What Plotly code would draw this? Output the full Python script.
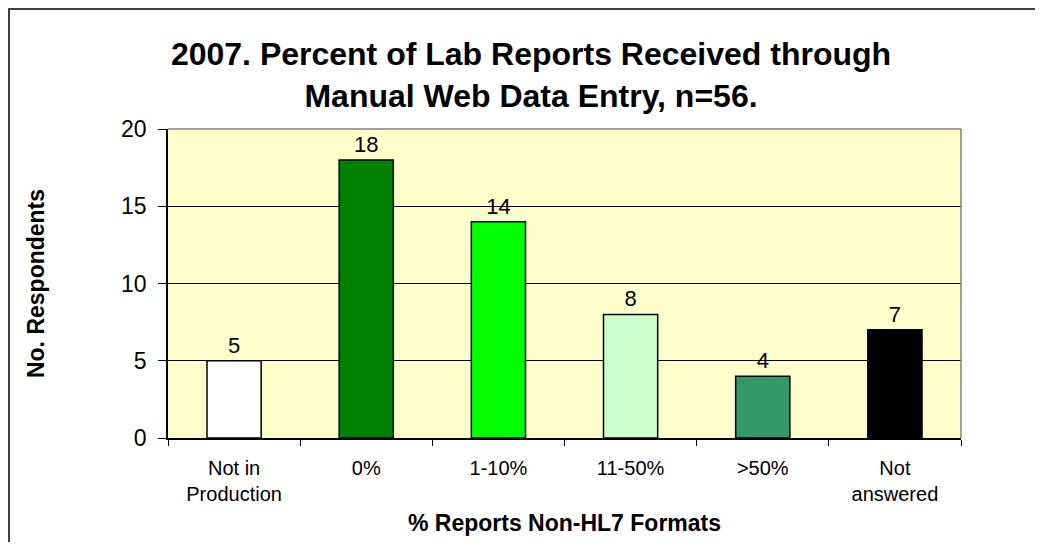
import plotly.graph_objects as go

categories = ["Not in<br>Production", "0%", "1-10%", "11-50%", ">50%", "Not<br>answered"]
values = [5, 18, 14, 8, 4, 7]
bar_colors = ["#FFFFFF", "#008000", "#00FF00", "#CCFFCC", "#339966", "#000000"]
y_ticks = [0, 5, 10, 15, 20]

W, H = 1027, 534
L, R, T, B = 160, 74, 121, 104
FONT = "Liberation Sans, Arial, sans-serif"

fig = go.Figure(go.Bar(
    x=categories, y=values,
    marker=dict(color=bar_colors, line=dict(color="#000000", width=1.5)),
    text=[str(v) for v in values], textposition="outside",
    textfont=dict(family=FONT, size=22, color="#000000"),
    cliponaxis=False,
))

fig.update_layout(
    width=W, height=H,
    margin=dict(l=L, r=R, t=T, b=B, autoexpand=False),
    paper_bgcolor="#FFFFFF", plot_bgcolor="#FFFFCC",
    bargap=0.59, showlegend=False,
    title=dict(
        text="2007. Percent of Lab Reports Received through<br>Manual Web Data Entry, n=56.",
        font=dict(family=FONT, size=32, color="#000000", weight="bold"),
        x=523 / W, xanchor="center", xref="container",
        y=1 - 57 / H, yanchor="middle", yref="container",
    ),
    font=dict(family=FONT, color="#000000"),
)

fig.update_xaxes(
    type="category", tickson="boundaries", ticks="outside", ticklen=6,
    tickcolor="#000000", tickwidth=1,
    showline=True, linecolor="#000000", linewidth=1.5,
    showgrid=False, tickfont=dict(family=FONT, size=20, color="#000000"),
    ticklabelstandoff=11,
    title=dict(text="% Reports Non-HL7 Formats",
               font=dict(family=FONT, size=23, color="#000000", weight="bold"),
               standoff=11),
    automargin=False,
)

fig.update_yaxes(
    range=[0, 20], tickvals=y_ticks, ticks="outside", ticklen=8,
    tickcolor="#000000", tickwidth=1,
    showline=True, linecolor="#000000", linewidth=1.5,
    showgrid=True, gridcolor="#000000", gridwidth=1, zeroline=False,
    tickfont=dict(family=FONT, size=23, color="#000000"),
    ticklabelstandoff=7,
    title=dict(text="No. Respondents",
               font=dict(family=FONT, size=23, color="#000000", weight="bold"),
               standoff=70),
    automargin=False,
)

# plot area border (grey) on top and right
fig.add_shape(type="line", xref="paper", yref="paper", x0=0, x1=1, y0=1, y1=1,
              line=dict(color="#808080", width=1.5), layer="above")
fig.add_shape(type="line", xref="paper", yref="paper", x0=1, x1=1, y0=0, y1=1,
              line=dict(color="#808080", width=1.5), layer="above")

# outer chart border (left and top edges visible)
PW, PH = W - L - R, H - T - B
fig.add_shape(type="line", xref="paper", yref="paper",
              x0=(1 - L) / PW, x1=(1 - L) / PW,
              y0=-B / PH, y1=1 + (T - 1) / PH,
              line=dict(color="#404040", width=2), layer="above")
fig.add_shape(type="line", xref="paper", yref="paper",
              x0=-L / PW, x1=1 + R / PW,
              y0=1 + (T - 1) / PH, y1=1 + (T - 1) / PH,
              line=dict(color="#404040", width=2), layer="above")

fig.write_html("out.html")
